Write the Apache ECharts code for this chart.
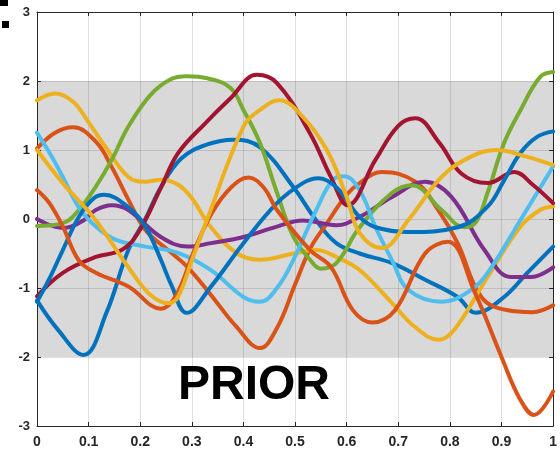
<!DOCTYPE html>
<html>
<head>
<meta charset="utf-8">
<script src="https://cdn.jsdelivr.net/npm/echarts@6/dist/echarts.min.js"></script>
<style>
  html, body { margin: 0; padding: 0; background: #ffffff; }
  #chart { width: 560px; height: 451px; }
</style>
</head>
<body>
<div id="chart"></div>
<script>
// Axis ticks
const xTicks = [0, 0.1, 0.2, 0.3, 0.4, 0.5, 0.6, 0.7, 0.8, 0.9, 1];
const yTicks = [-3, -2, -1, 0, 1, 2, 3];

// Shaded prior band (±2)
const bandRange = [-2, 2];

// Prior sample functions, [x, f(x)]
const blueA = [[0,-1.18],[0.04,-1.6],[0.09,-1.97],[0.135,-1.35],[0.177,-0.45],[0.21,0.0],[0.24,0.46],[0.28,0.88],[0.33,1.08],[0.38,1.15],[0.432,1.04],[0.497,0.46],[0.541,-0.02],[0.58,-0.35],[0.625,-0.5],[0.688,-0.64],[0.752,-0.88],[0.815,-1.13],[0.85,-1.36],[0.905,-1.13],[0.95,-0.78],[1.0,-0.4]];
const orangeA = [[0,1.02],[0.035,1.25],[0.07,1.33],[0.114,1.12],[0.145,0.75],[0.177,0.28],[0.21,-0.16],[0.254,-0.45],[0.292,-0.7],[0.337,-1.1],[0.385,-1.55],[0.432,-1.87],[0.465,-1.58],[0.5,-0.95],[0.53,-0.42],[0.56,-0.08],[0.6,0.35],[0.625,0.52],[0.668,0.68],[0.733,0.54],[0.78,0.1],[0.815,-0.35],[0.861,-1.13],[0.91,-1.32],[0.96,-1.35],[1.0,-1.25]];
const yellowA = [[0,1.72],[0.035,1.82],[0.07,1.7],[0.1,1.4],[0.133,1.04],[0.177,0.61],[0.21,0.54],[0.24,0.57],[0.273,0.5],[0.3,0.3],[0.337,-0.12],[0.388,-0.5],[0.432,-0.59],[0.497,-0.5],[0.541,-0.45],[0.58,-0.55],[0.625,-0.74],[0.688,-1.22],[0.73,-1.55],[0.778,-1.75],[0.809,-1.6],[0.873,-0.84],[0.937,-0.11],[0.975,0.13],[1.0,0.18]];
const purple = [[0,0.0],[0.05,-0.13],[0.09,-0.02],[0.114,0.13],[0.145,0.2],[0.177,0.13],[0.24,-0.26],[0.292,-0.4],[0.337,-0.35],[0.4,-0.26],[0.465,-0.11],[0.515,-0.02],[0.58,-0.09],[0.625,0.03],[0.688,0.32],[0.752,0.54],[0.803,0.32],[0.867,-0.45],[0.918,-0.84],[0.957,-0.84],[1.0,-0.7]];
const green = [[0,-0.1],[0.05,-0.06],[0.081,0.13],[0.114,0.47],[0.145,0.86],[0.177,1.34],[0.22,1.8],[0.26,2.03],[0.29,2.07],[0.33,2.04],[0.375,1.9],[0.4,1.58],[0.432,1.1],[0.465,0.38],[0.497,-0.26],[0.529,-0.59],[0.55,-0.72],[0.58,-0.64],[0.625,-0.12],[0.688,0.38],[0.726,0.49],[0.784,0.13],[0.828,-0.12],[0.85,-0.05],[0.873,0.38],[0.905,1.1],[0.937,1.58],[0.975,2.06],[1.0,2.13]];
const lightBlue = [[0,1.25],[0.025,0.95],[0.05,0.61],[0.081,0.17],[0.114,-0.11],[0.152,-0.3],[0.21,-0.4],[0.273,-0.49],[0.337,-0.74],[0.4,-1.13],[0.432,-1.2],[0.465,-1.0],[0.497,-0.59],[0.541,0.13],[0.575,0.58],[0.595,0.62],[0.625,0.42],[0.656,-0.12],[0.688,-0.6],[0.72,-1.03],[0.784,-1.2],[0.835,-1.06],[0.873,-0.78],[0.937,-0.01],[1.0,0.76]];
const darkRed = [[0,-1.12],[0.05,-0.78],[0.114,-0.55],[0.164,-0.45],[0.196,-0.2],[0.24,0.45],[0.273,0.95],[0.325,1.38],[0.375,1.75],[0.426,2.09],[0.465,1.97],[0.529,1.24],[0.57,0.6],[0.602,0.2],[0.656,0.86],[0.7,1.35],[0.733,1.46],[0.78,1.1],[0.822,0.66],[0.873,0.52],[0.925,0.68],[0.96,0.5],[1.0,0.23]];
const blueB = [[0,-1.2],[0.025,-0.85],[0.05,-0.45],[0.081,0.03],[0.11,0.3],[0.13,0.35],[0.177,0.17],[0.21,-0.11],[0.24,-0.59],[0.26,-0.95],[0.29,-1.36],[0.337,-0.98],[0.4,-0.35],[0.465,0.23],[0.515,0.52],[0.545,0.59],[0.58,0.46],[0.625,0.03],[0.656,-0.12],[0.72,-0.19],[0.815,-0.12],[0.873,0.18],[0.905,0.56],[0.937,0.96],[0.969,1.19],[1.0,1.27]];
const orangeB = [[0,0.42],[0.024,0.23],[0.05,-0.11],[0.081,-0.6],[0.114,-0.78],[0.177,-0.98],[0.24,-1.3],[0.27,-1.1],[0.305,-0.45],[0.34,0.1],[0.375,0.45],[0.41,0.6],[0.44,0.45],[0.465,0.13],[0.529,-0.45],[0.57,-0.7],[0.612,-1.32],[0.65,-1.5],[0.694,-1.32],[0.752,-0.5],[0.796,-0.33],[0.848,-1.06],[0.9,-2.0],[0.935,-2.6],[0.963,-2.84],[1.0,-2.5]];
const yellowB = [[0,1.0],[0.05,0.52],[0.113,-0.01],[0.177,-0.7],[0.22,-1.1],[0.255,-1.22],[0.273,-1.13],[0.3,-0.6],[0.33,0.0],[0.4,1.34],[0.432,1.58],[0.47,1.72],[0.5,1.6],[0.56,1.02],[0.6,0.32],[0.625,-0.2],[0.668,-0.42],[0.72,-0.01],[0.784,0.61],[0.84,0.9],[0.89,1.0],[0.95,0.9],[1.0,0.78]];

// Drawing order and line colours
const samples = [blueA, orangeA, yellowA, purple, green, lightBlue, darkRed, blueB, orangeB, yellowB];
const colors = ['#0072BD', '#D95319', '#EDB120', '#7E2F8E', '#77AC30', '#4DBEEE', '#A2142F', '#0072BD', '#D95319', '#EDB120'];

const FONT = '"Liberation Sans", Arial, sans-serif';
const INK = '#262626';
const GRID = 'rgba(38,38,38,0.15)';

const chart = echarts.init(document.getElementById('chart'), null, { renderer: 'canvas' });

const lineSeries = samples.map((d, i) => ({
  type: 'line',
  data: d,
  smooth: 0.4,
  showSymbol: false,
  symbol: 'none',
  z: 3,
  lineStyle: { color: colors[i], width: 4, cap: 'round', join: 'round' },
  animation: false
}));

const bandSeries = {
  type: 'custom',
  z: 1,
  silent: true,
  animation: false,
  data: [[xTicks[0], bandRange[0], xTicks[xTicks.length - 1], bandRange[1]]],
  renderItem: function (params, api) {
    const p0 = api.coord([api.value(0), api.value(3)]);
    const p1 = api.coord([api.value(2), api.value(1)]);
    return {
      type: 'rect',
      shape: { x: p0[0], y: p0[1], width: p1[0] - p0[0], height: p1[1] - p0[1] },
      style: { fill: '#d9d9d9' }
    };
  }
};

const axisLabelX = {
  show: true, color: INK, fontFamily: FONT, fontWeight: 'bold', fontSize: 14, margin: 9,
  formatter: v => String(+v.toFixed(1))
};
const axisLabelY = {
  show: true, color: INK, fontFamily: FONT, fontWeight: 'bold', fontSize: 13, margin: 7,
  formatter: v => String(v)
};

chart.setOption({
  backgroundColor: '#ffffff',
  animation: false,
  grid: { left: 37, right: 0, top: 12, bottom: 25, containLabel: false },
  xAxis: [
    {
      type: 'value', min: xTicks[0], max: xTicks[xTicks.length - 1], interval: 0.1, z: 2,
      axisLine: { show: true, onZero: false, lineStyle: { color: INK, width: 1 } },
      axisTick: { show: true, inside: true, length: 4, lineStyle: { color: INK } },
      splitLine: { show: true, lineStyle: { color: GRID, width: 1 } },
      axisLabel: axisLabelX
    },
    {
      type: 'value', position: 'top', min: xTicks[0], max: xTicks[xTicks.length - 1], interval: 0.1, z: 2,
      axisLine: { show: true, onZero: false, lineStyle: { color: INK, width: 1 } },
      axisTick: { show: true, inside: true, length: 4, lineStyle: { color: INK } },
      splitLine: { show: false },
      axisLabel: { show: false }
    }
  ],
  yAxis: [
    {
      type: 'value', min: yTicks[0], max: yTicks[yTicks.length - 1], interval: 1, z: 2,
      axisLine: { show: true, onZero: false, lineStyle: { color: INK, width: 1 } },
      axisTick: { show: true, inside: true, length: 4, lineStyle: { color: INK } },
      splitLine: { show: true, lineStyle: { color: GRID, width: 1 } },
      axisLabel: axisLabelY
    },
    {
      type: 'value', position: 'right', min: yTicks[0], max: yTicks[yTicks.length - 1], interval: 1, z: 2,
      axisLine: { show: true, onZero: false, lineStyle: { color: INK, width: 1 } },
      axisTick: { show: true, inside: true, length: 4, lineStyle: { color: INK } },
      splitLine: { show: false },
      axisLabel: { show: false }
    }
  ],
  series: [bandSeries].concat(lineSeries),
  graphic: [
    { type: 'rect', left: 0, top: 0, shape: { width: 8, height: 6 }, style: { fill: '#000' }, z: 10 },
    { type: 'rect', left: 2, top: 21, shape: { width: 7, height: 7 }, style: { fill: '#000' }, z: 10 },
    {
      type: 'text', left: 178, top: 362, z: 10,
      style: { text: 'PRIOR', fill: '#000', font: 'bold 48px "Liberation Sans", Arial, sans-serif' }
    }
  ]
});
</script>
</body>
</html>
